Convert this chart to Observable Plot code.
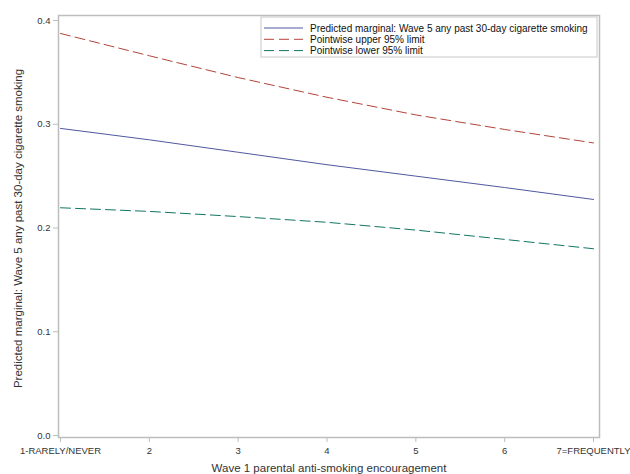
<!DOCTYPE html>
<html>
<head>
<meta charset="utf-8">
<script src="https://cdn.jsdelivr.net/npm/d3@7"></script>
<script src="https://cdn.jsdelivr.net/npm/@observablehq/plot@0.6"></script>
<style>
  html, body { margin: 0; padding: 0; background: #fff; }
  #chart { position: relative; width: 630px; height: 474px; overflow: hidden; }
</style>
</head>
<body>
<div id="chart"></div>
<script>
// ---- data ----
const xValues = [1, 2, 3, 4, 5, 6, 7];
const xTickLabels = ["1-RARELY/NEVER", "2", "3", "4", "5", "6", "7=FREQUENTLY"];
const predicted = [0.296, 0.285, 0.273, 0.261, 0.250, 0.239, 0.2275];
const upper = [0.3875, 0.366, 0.345, 0.326, 0.309, 0.295, 0.282];
const lower = [0.2195, 0.2160, 0.2110, 0.2055, 0.1980, 0.1890, 0.1800];
const yTicks = [0.0, 0.1, 0.2, 0.3, 0.4];
const seriesNames = [
  "Predicted marginal: Wave 5 any past 30-day cigarette smoking",
  "Pointwise upper 95% limit",
  "Pointwise lower 95% limit"
];
const seriesColors = ["#5058a0", "#b4443a", "#127565"];
const seriesDash = [null, "10,5", "10,5"];
const xTitle = "Wave 1 parental anti-smoking encouragement";
const yTitle = "Predicted marginal: Wave 5 any past 30-day cigarette smoking";

const seriesValues = [predicted, upper, lower];
const rows = [];
seriesValues.forEach((vals, s) => vals.forEach((v, i) => rows.push({x: xValues[i], y: v, s})));

const font = "'Liberation Sans', Arial, sans-serif";

const plot = Plot.plot({
  width: 630,
  height: 474,
  marginLeft: 58,
  marginRight: 31,
  marginTop: 15,
  marginBottom: 37,
  style: {fontFamily: font, background: "#fff", overflow: "visible"},
  x: {domain: [1, 7], insetLeft: 2, insetRight: 6},
  y: {domain: [0, 0.4], insetTop: 5, insetBottom: 2},
  marks: [
    Plot.frame({stroke: "#bdbdbd", strokeWidth: 1.5}),
    Plot.axisX({ticks: xValues, tickFormat: (d) => xTickLabels[xValues.indexOf(d)], tickSize: 5, tickPadding: 5, stroke: "#bdbdbd", fill: "#333", fontSize: 9.5, label: null}),
    Plot.axisY({ticks: yTicks, tickFormat: d3.format(".1f"), tickSize: 5, tickPadding: 3, stroke: "#bdbdbd", fill: "#333", fontSize: 9.5, label: null}),
    Plot.text([xTitle], {frameAnchor: "bottom", dy: 31, lineAnchor: "middle", textAnchor: "middle", fontSize: 11.5, fill: "#333"}),
    Plot.text([yTitle], {frameAnchor: "left", dx: -40, dy: 2, rotate: -90, textAnchor: "middle", lineAnchor: "middle", fontSize: 11.5, fill: "#333"}),
    ...seriesValues.map((vals, s) => Plot.line(rows.filter(r => r.s === s), {
      x: "x", y: "y", stroke: seriesColors[s], strokeWidth: 1,
      strokeDasharray: seriesDash[s] || undefined
    }))
  ]
});

document.getElementById("chart").appendChild(plot);

// ---- legend (inside plot, top right) ----
const svg = d3.select(plot);
const lg = svg.append("g").attr("font-family", font).attr("font-size", 10).attr("text-anchor", "start");
const lx0 = 261, ly0 = 17, lw = 336, lh = 40;
lg.append("rect").attr("x", lx0).attr("y", ly0).attr("width", lw).attr("height", lh)
  .attr("fill", "#fff").attr("stroke", "#c8c8c8");
seriesNames.forEach((name, i) => {
  const yy = ly0 + 11 + i * 11.3;
  lg.append("line").attr("x1", lx0 + 3).attr("x2", lx0 + 42).attr("y1", yy).attr("y2", yy)
    .attr("stroke", seriesColors[i]).attr("stroke-width", 1)
    .attr("stroke-dasharray", seriesDash[i]);
  lg.append("text").attr("x", lx0 + 49).attr("y", yy).attr("dy", "0.35em")
    .attr("text-anchor", "start").attr("fill", "#111").text(name);
});
</script>
</body>
</html>
